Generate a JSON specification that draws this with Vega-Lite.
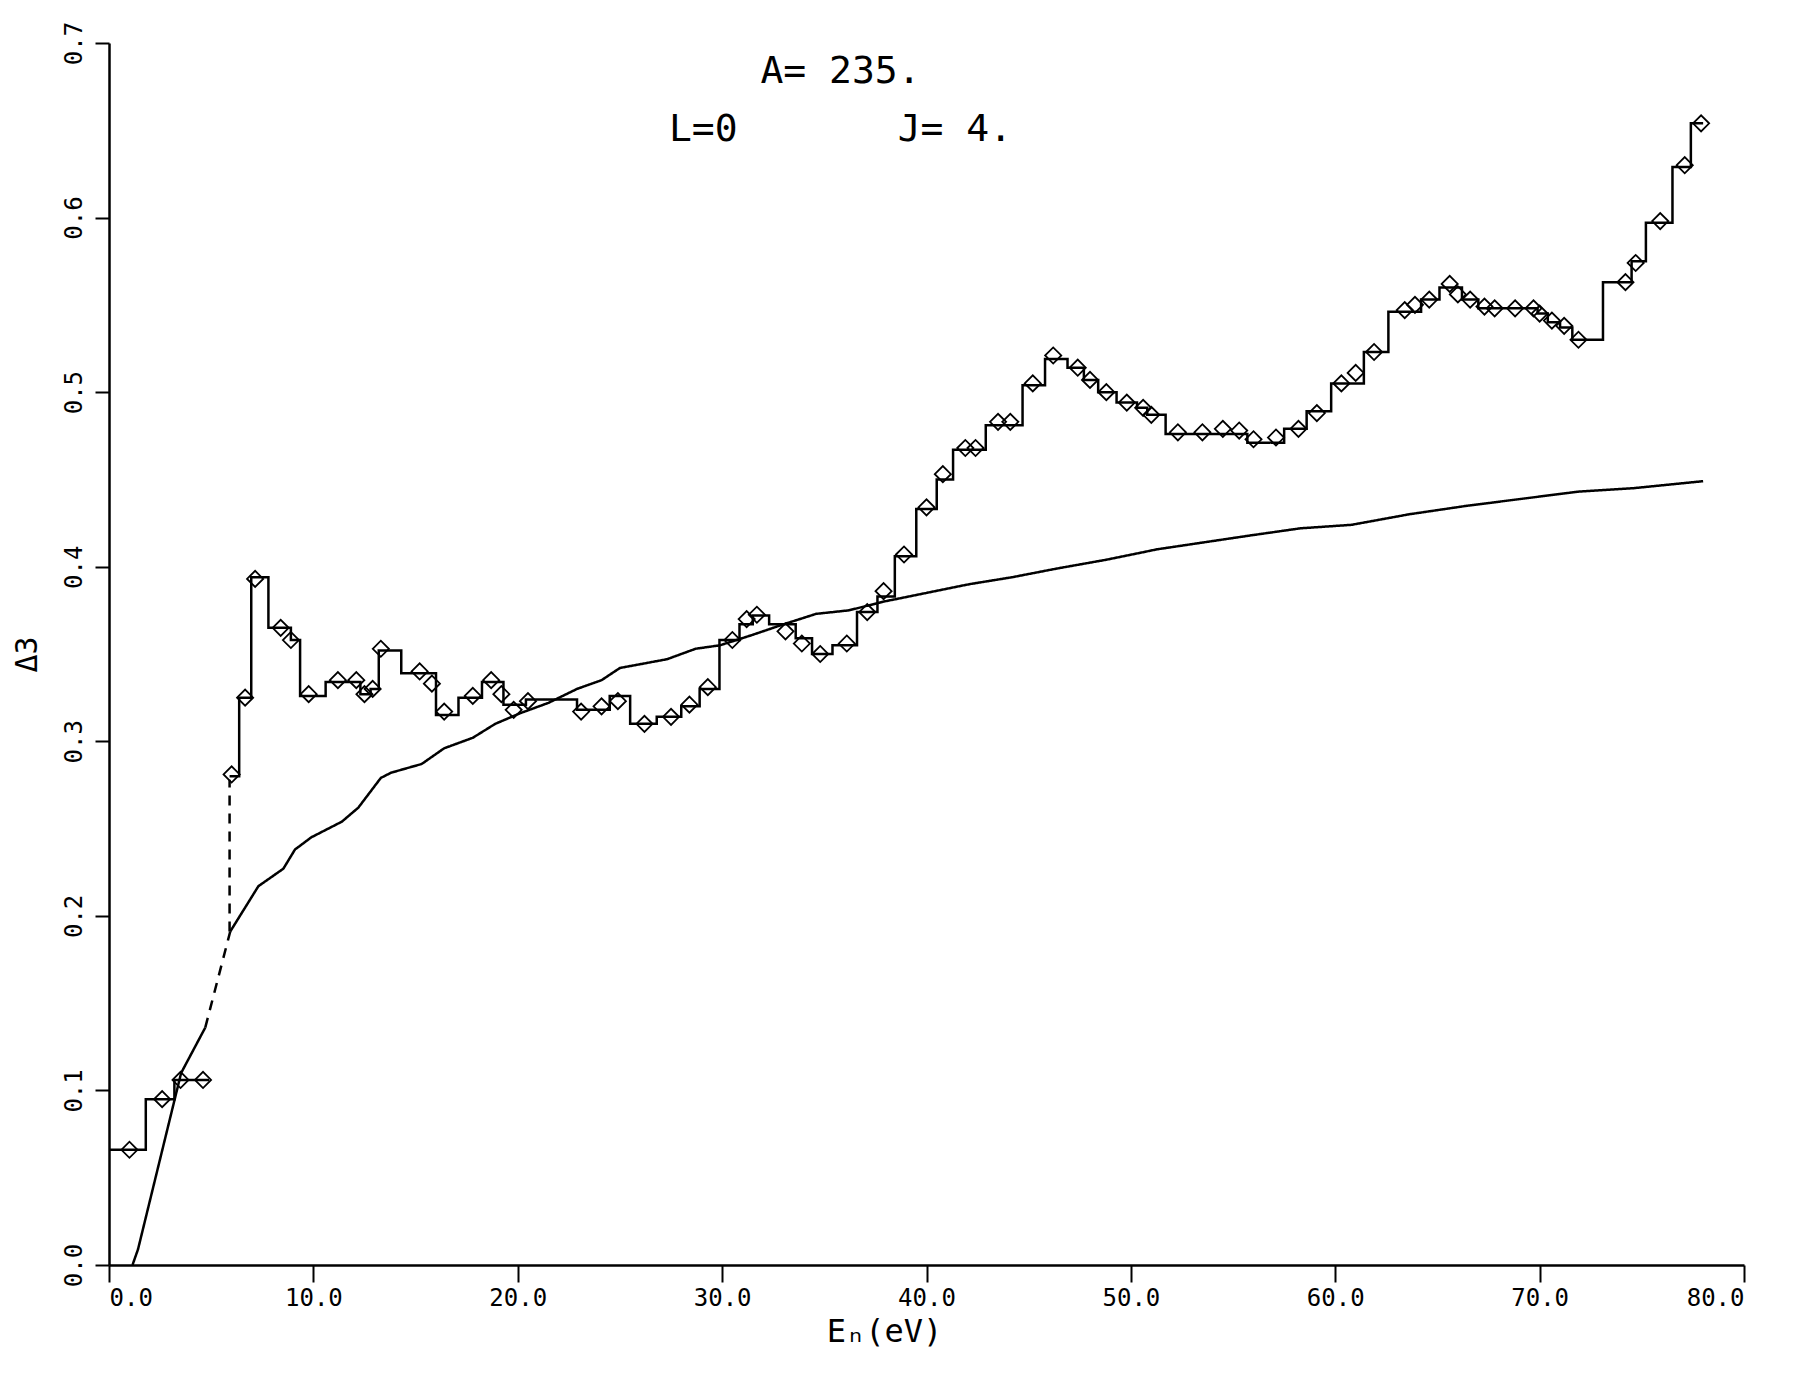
{
  "$schema": "https://vega.github.io/schema/vega-lite/v6.json",
  "width": 1635,
  "height": 1222,
  "autosize": {"type": "none"},
  "padding": {"left": 109, "top": 43, "right": 50, "bottom": 108},
  "background": "white",
  "config": {
    "view": {"stroke": null},
    "axis": {
      "grid": false,
      "domainColor": "black",
      "domainWidth": 2.5,
      "tickColor": "black",
      "tickWidth": 2,
      "labelColor": "black",
      "labelFont": "DejaVu Sans Mono",
      "labelFontSize": 24,
      "titleColor": "black",
      "titleFont": "DejaVu Sans Mono",
      "titleFontWeight": "normal"
    }
  },
  "title": {
    "text": ["A= 235.", "L=0\u00a0\u00a0\u00a0\u00a0\u00a0\u00a0\u00a0J= 4."],
    "font": "DejaVu Sans Mono",
    "fontSize": 38,
    "fontWeight": "normal",
    "color": "black",
    "anchor": "middle",
    "frame": "group",
    "orient": "top",
    "offset": 0,
    "baseline": "top",
    "lineHeight": 58,
    "dx": -86,
    "dy": 128
  },
  "datasets": {
    "theory": [
      {"E": 1.15, "D": 0.0, "seg": "a"},
      {"E": 1.42, "D": 0.009, "seg": "a"},
      {"E": 3.53, "D": 0.110, "seg": "a"},
      {"E": 4.71, "D": 0.136, "seg": "a"},
      {"E": 4.71, "D": 0.136, "seg": "b"},
      {"E": 5.93, "D": 0.191, "seg": "b"},
      {"E": 5.93, "D": 0.191, "seg": "c"},
      {"E": 7.31, "D": 0.217, "seg": "c"},
      {"E": 8.53, "D": 0.227, "seg": "c"},
      {"E": 9.1, "D": 0.238, "seg": "c"},
      {"E": 9.9, "D": 0.245, "seg": "c"},
      {"E": 11.4, "D": 0.254, "seg": "c"},
      {"E": 12.2, "D": 0.262, "seg": "c"},
      {"E": 13.3, "D": 0.279, "seg": "c"},
      {"E": 13.8, "D": 0.282, "seg": "c"},
      {"E": 15.3, "D": 0.287, "seg": "c"},
      {"E": 16.4, "D": 0.296, "seg": "c"},
      {"E": 17.8, "D": 0.302, "seg": "c"},
      {"E": 18.9, "D": 0.310, "seg": "c"},
      {"E": 20.1, "D": 0.316, "seg": "c"},
      {"E": 21.5, "D": 0.322, "seg": "c"},
      {"E": 22.9, "D": 0.330, "seg": "c"},
      {"E": 24.1, "D": 0.335, "seg": "c"},
      {"E": 25.0, "D": 0.342, "seg": "c"},
      {"E": 27.3, "D": 0.347, "seg": "c"},
      {"E": 28.7, "D": 0.353, "seg": "c"},
      {"E": 29.9, "D": 0.355, "seg": "c"},
      {"E": 31.5, "D": 0.361, "seg": "c"},
      {"E": 33.0, "D": 0.367, "seg": "c"},
      {"E": 34.6, "D": 0.373, "seg": "c"},
      {"E": 36.2, "D": 0.375, "seg": "c"},
      {"E": 37.9, "D": 0.380, "seg": "c"},
      {"E": 40.0, "D": 0.385, "seg": "c"},
      {"E": 42.1, "D": 0.390, "seg": "c"},
      {"E": 44.2, "D": 0.394, "seg": "c"},
      {"E": 46.4, "D": 0.399, "seg": "c"},
      {"E": 48.8, "D": 0.404, "seg": "c"},
      {"E": 51.3, "D": 0.410, "seg": "c"},
      {"E": 53.6, "D": 0.414, "seg": "c"},
      {"E": 55.9, "D": 0.418, "seg": "c"},
      {"E": 58.3, "D": 0.422, "seg": "c"},
      {"E": 60.8, "D": 0.424, "seg": "c"},
      {"E": 63.6, "D": 0.430, "seg": "c"},
      {"E": 66.5, "D": 0.435, "seg": "c"},
      {"E": 69.2, "D": 0.439, "seg": "c"},
      {"E": 71.9, "D": 0.443, "seg": "c"},
      {"E": 74.6, "D": 0.445, "seg": "c"},
      {"E": 78.0, "D": 0.449, "seg": "c"}
    ],
    "steps": [
      {"E": 0.05, "D": 0.066, "seg": "s1"},
      {"E": 1.8, "D": 0.095, "seg": "s1"},
      {"E": 3.2, "D": 0.106, "seg": "s1"},
      {"E": 4.9, "D": 0.106, "seg": "s1"},
      {"E": 5.9, "D": 0.191, "seg": "v"},
      {"E": 5.9, "D": 0.278, "seg": "v"},
      {"E": 5.9, "D": 0.280, "seg": "s2"},
      {"E": 6.37, "D": 0.325, "seg": "s2"},
      {"E": 6.96, "D": 0.394, "seg": "s2"},
      {"E": 7.8, "D": 0.365, "seg": "s2"},
      {"E": 8.9, "D": 0.358, "seg": "s2"},
      {"E": 9.35, "D": 0.326, "seg": "s2"},
      {"E": 10.6, "D": 0.334, "seg": "s2"},
      {"E": 12.3, "D": 0.327, "seg": "s2"},
      {"E": 12.8, "D": 0.330, "seg": "s2"},
      {"E": 13.2, "D": 0.352, "seg": "s2"},
      {"E": 14.3, "D": 0.339, "seg": "s2"},
      {"E": 16.0, "D": 0.315, "seg": "s2"},
      {"E": 17.1, "D": 0.325, "seg": "s2"},
      {"E": 18.25, "D": 0.334, "seg": "s2"},
      {"E": 19.3, "D": 0.321, "seg": "s2"},
      {"E": 20.4, "D": 0.324, "seg": "s2"},
      {"E": 22.9, "D": 0.318, "seg": "s2"},
      {"E": 24.5, "D": 0.326, "seg": "s2"},
      {"E": 25.5, "D": 0.310, "seg": "s2"},
      {"E": 26.8, "D": 0.314, "seg": "s2"},
      {"E": 28.0, "D": 0.320, "seg": "s2"},
      {"E": 28.9, "D": 0.330, "seg": "s2"},
      {"E": 29.87, "D": 0.358, "seg": "s2"},
      {"E": 30.85, "D": 0.367, "seg": "s2"},
      {"E": 31.5, "D": 0.372, "seg": "s2"},
      {"E": 32.3, "D": 0.367, "seg": "s2"},
      {"E": 33.6, "D": 0.359, "seg": "s2"},
      {"E": 34.4, "D": 0.350, "seg": "s2"},
      {"E": 35.4, "D": 0.355, "seg": "s2"},
      {"E": 36.6, "D": 0.374, "seg": "s2"},
      {"E": 37.6, "D": 0.383, "seg": "s2"},
      {"E": 38.45, "D": 0.406, "seg": "s2"},
      {"E": 39.5, "D": 0.433, "seg": "s2"},
      {"E": 40.5, "D": 0.450, "seg": "s2"},
      {"E": 41.3, "D": 0.467, "seg": "s2"},
      {"E": 42.9, "D": 0.481, "seg": "s2"},
      {"E": 44.7, "D": 0.504, "seg": "s2"},
      {"E": 45.8, "D": 0.519, "seg": "s2"},
      {"E": 46.9, "D": 0.514, "seg": "s2"},
      {"E": 47.7, "D": 0.507, "seg": "s2"},
      {"E": 48.4, "D": 0.500, "seg": "s2"},
      {"E": 49.3, "D": 0.494, "seg": "s2"},
      {"E": 50.3, "D": 0.491, "seg": "s2"},
      {"E": 50.8, "D": 0.487, "seg": "s2"},
      {"E": 51.7, "D": 0.476, "seg": "s2"},
      {"E": 55.7, "D": 0.471, "seg": "s2"},
      {"E": 57.5, "D": 0.479, "seg": "s2"},
      {"E": 58.6, "D": 0.489, "seg": "s2"},
      {"E": 59.8, "D": 0.505, "seg": "s2"},
      {"E": 61.4, "D": 0.523, "seg": "s2"},
      {"E": 62.6, "D": 0.546, "seg": "s2"},
      {"E": 64.2, "D": 0.553, "seg": "s2"},
      {"E": 65.1, "D": 0.560, "seg": "s2"},
      {"E": 66.2, "D": 0.553, "seg": "s2"},
      {"E": 67.0, "D": 0.548, "seg": "s2"},
      {"E": 69.9, "D": 0.545, "seg": "s2"},
      {"E": 70.4, "D": 0.540, "seg": "s2"},
      {"E": 71.0, "D": 0.537, "seg": "s2"},
      {"E": 71.6, "D": 0.530, "seg": "s2"},
      {"E": 73.1, "D": 0.563, "seg": "s2"},
      {"E": 74.5, "D": 0.575, "seg": "s2"},
      {"E": 75.2, "D": 0.597, "seg": "s2"},
      {"E": 76.5, "D": 0.629, "seg": "s2"},
      {"E": 77.4, "D": 0.654, "seg": "s2"},
      {"E": 78.0, "D": 0.654, "seg": "s2"}
    ],
    "diamonds": [
      {"E": 1.0, "D": 0.066}, {"E": 2.6, "D": 0.095}, {"E": 3.5, "D": 0.106}, {"E": 4.6, "D": 0.106},
      {"E": 6.0, "D": 0.281}, {"E": 6.66, "D": 0.325}, {"E": 7.15, "D": 0.393}, {"E": 8.4, "D": 0.365},
      {"E": 8.9, "D": 0.358}, {"E": 9.77, "D": 0.327}, {"E": 11.2, "D": 0.335}, {"E": 12.1, "D": 0.335},
      {"E": 12.5, "D": 0.327}, {"E": 12.9, "D": 0.330}, {"E": 13.3, "D": 0.353}, {"E": 15.2, "D": 0.340},
      {"E": 15.8, "D": 0.333}, {"E": 16.4, "D": 0.317}, {"E": 17.8, "D": 0.326}, {"E": 18.7, "D": 0.335},
      {"E": 19.2, "D": 0.327}, {"E": 19.8, "D": 0.318}, {"E": 20.5, "D": 0.323}, {"E": 23.1, "D": 0.317},
      {"E": 24.1, "D": 0.320}, {"E": 24.9, "D": 0.323}, {"E": 26.2, "D": 0.310}, {"E": 27.5, "D": 0.314},
      {"E": 28.4, "D": 0.321}, {"E": 29.3, "D": 0.331}, {"E": 30.5, "D": 0.358}, {"E": 31.2, "D": 0.370},
      {"E": 31.7, "D": 0.3725}, {"E": 33.1, "D": 0.363}, {"E": 33.9, "D": 0.356}, {"E": 34.8, "D": 0.350},
      {"E": 36.1, "D": 0.356}, {"E": 37.1, "D": 0.374}, {"E": 37.9, "D": 0.386}, {"E": 38.9, "D": 0.407},
      {"E": 40.0, "D": 0.434}, {"E": 40.8, "D": 0.453}, {"E": 41.9, "D": 0.468}, {"E": 42.4, "D": 0.468},
      {"E": 43.5, "D": 0.483}, {"E": 44.1, "D": 0.483}, {"E": 45.2, "D": 0.505}, {"E": 46.2, "D": 0.521},
      {"E": 47.4, "D": 0.514}, {"E": 48.0, "D": 0.507}, {"E": 48.8, "D": 0.500}, {"E": 49.8, "D": 0.494},
      {"E": 50.6, "D": 0.491}, {"E": 51.0, "D": 0.487}, {"E": 52.3, "D": 0.477}, {"E": 53.5, "D": 0.477},
      {"E": 54.5, "D": 0.479}, {"E": 55.3, "D": 0.478}, {"E": 56.0, "D": 0.473}, {"E": 57.1, "D": 0.474},
      {"E": 58.2, "D": 0.479}, {"E": 59.1, "D": 0.488}, {"E": 60.3, "D": 0.505}, {"E": 61.0, "D": 0.511},
      {"E": 61.9, "D": 0.523}, {"E": 63.4, "D": 0.547}, {"E": 63.9, "D": 0.550}, {"E": 64.6, "D": 0.553},
      {"E": 65.6, "D": 0.562}, {"E": 66.0, "D": 0.556}, {"E": 66.6, "D": 0.553}, {"E": 67.3, "D": 0.549},
      {"E": 67.8, "D": 0.548}, {"E": 68.8, "D": 0.548}, {"E": 69.7, "D": 0.548}, {"E": 70.0, "D": 0.545},
      {"E": 70.6, "D": 0.541}, {"E": 71.2, "D": 0.538}, {"E": 71.9, "D": 0.530}, {"E": 74.2, "D": 0.563},
      {"E": 74.7, "D": 0.574}, {"E": 75.9, "D": 0.598}, {"E": 77.1, "D": 0.630}, {"E": 77.9, "D": 0.654}
    ]
  },
  "encoding": {
    "x": {
      "field": "E",
      "type": "quantitative",
      "scale": {"domain": [0, 80], "nice": false, "zero": false},
      "axis": {
        "values": [0, 10, 20, 30, 40, 50, 60, 70, 80],
        "format": ".1f",
        "tickSize": 17,
        "labelPadding": 4,
        "title": "Eₙ(eV)",
        "titleFontSize": 32,
        "titlePadding": 6,
        "titleX": 775
      }
    },
    "y": {
      "field": "D",
      "type": "quantitative",
      "scale": {"domain": [0, 0.7], "nice": false},
      "axis": {
        "values": [0, 0.1, 0.2, 0.3, 0.4, 0.5, 0.6, 0.7],
        "format": ".1f",
        "tickSize": 14,
        "labelAngle": 270,
        "labelAlign": "center",
        "labelBaseline": "bottom",
        "labelPadding": 9,
        "title": "Δ3",
        "titleAngle": 270,
        "titleFontSize": 30,
        "titlePadding": 20
      }
    }
  },
  "layer": [
    {
      "data": {"name": "theory"},
      "mark": {"type": "line", "color": "black", "strokeWidth": 2.5},
      "encoding": {
        "strokeDash": {
          "field": "seg",
          "type": "nominal",
          "scale": {"domain": ["a", "b", "c"], "range": [[1, 0], [10, 8], [1, 0]]},
          "legend": null
        }
      }
    },
    {
      "data": {"name": "steps"},
      "mark": {"type": "line", "color": "black", "strokeWidth": 2.5, "interpolate": "step-after"},
      "encoding": {
        "strokeDash": {
          "field": "seg",
          "type": "nominal",
          "scale": {"domain": ["s1", "v", "s2"], "range": [[1, 0], [12, 4, 2, 4], [1, 0]]},
          "legend": null
        }
      }
    },
    {
      "data": {"name": "diamonds"},
      "mark": {"type": "point", "shape": "diamond", "filled": false, "color": "black", "strokeWidth": 1.8, "size": 260, "opacity": 1}
    }
  ]
}
